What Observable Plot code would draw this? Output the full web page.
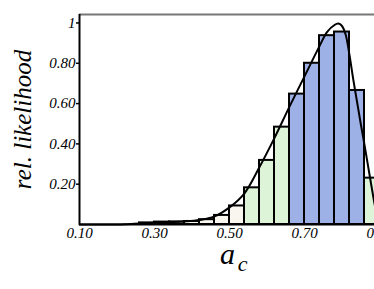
<!DOCTYPE html>
<html><head><meta charset="utf-8">
<script src="https://cdn.jsdelivr.net/npm/d3@7"></script>
<script src="https://cdn.jsdelivr.net/npm/@observablehq/plot@0.6"></script>
<style>
html,body{margin:0;padding:0;overflow:hidden;background:#fff}
#chart svg, #chart svg text{font-family:"Liberation Serif","Times New Roman",serif !important;font-style:italic}
</style>
</head><body><div id="chart"></div>
<script>
// Histogram bins (left edge, width 0.04)
const binStart  = [0.26, 0.30, 0.34, 0.38, 0.42, 0.46, 0.50, 0.54, 0.58, 0.62, 0.66, 0.70, 0.74, 0.78, 0.82, 0.86];
const binHeight = [0.008, 0.012, 0.013, 0.015, 0.024, 0.045, 0.092, 0.182, 0.318, 0.483, 0.647, 0.800, 0.937, 0.955, 0.665, 0.230];
const binGroup  = ["low","low","low","low","low","low","low","mid","mid","mid","high","high","high","high","high","mid"];
const binWidth = 0.04;

// Smooth likelihood curve
const curveX = [0.10, 0.20, 0.22, 0.26, 0.30, 0.34, 0.38, 0.42, 0.46, 0.50, 0.54, 0.58, 0.62, 0.66, 0.70, 0.74, 0.76, 0.78, 0.79, 0.80, 0.81, 0.82, 0.83, 0.84, 0.85, 0.86, 0.87, 0.88, 0.89, 0.90];
const curveY = [0.000, 0.000, 0.001, 0.005, 0.009, 0.012, 0.015, 0.022, 0.040, 0.085, 0.155, 0.285, 0.430, 0.585, 0.735, 0.885, 0.955, 0.990, 0.997, 0.985, 0.940, 0.840, 0.720, 0.610, 0.500, 0.395, 0.285, 0.175, 0.075, 0.020];

const xTicks = [0.10, 0.30, 0.50, 0.70, 0.90];
const xTickLabels = ["0.10", "0.30", "0.50", "0.70", "0.90"];
const yTicks = [0.20, 0.40, 0.60, 0.80, 1];
const yTickLabels = ["0.20", "0.40", "0.60", "0.80", "1"];

const groups = ["low", "mid", "high"];
const groupColors = ["#f8f6ee", "#ddf4d8", "#9db1e7"];

const bins = binStart.map((x, i) => ({x1: x, x2: x + binWidth, h: binHeight[i], g: binGroup[i]}));
const curve = curveX.map((x, i) => ({x, y: curveY[i]}));
const yTop = 1.042;

const chart = Plot.plot({
  width: 400, height: 289,
  marginLeft: 79, marginRight: 21, marginTop: 14, marginBottom: 65,
  x: {domain: [0.10, 0.90]},
  y: {domain: [0, yTop]},
  color: {domain: groups, range: groupColors},
  style: {fontFamily: "Liberation Serif", fontStyle: "italic", fontSize: "15px", background: "white", maxWidth: "none", color: "black"},
  marks: [
    Plot.rectY(bins, {x1: "x1", x2: "x2", y: "h", fill: "g", stroke: "black", strokeWidth: 2}),
    Plot.line(curve, {x: "x", y: "y", curve: "catmull-rom", stroke: "black", strokeWidth: 2}),
    Plot.ruleY([yTop], {stroke: "#777", strokeWidth: 2}),
    Plot.ruleY([0], {stroke: "black", strokeWidth: 2}),
    Plot.ruleX([0.10], {stroke: "black", strokeWidth: 2}),
    Plot.axisY({ticks: yTicks, tickFormat: d => yTickLabels[yTicks.indexOf(d)], tickSize: 3, tickPadding: 1, label: null, strokeWidth: 1.5}),
    Plot.axisX({ticks: xTicks, tickFormat: d => xTickLabels[xTicks.indexOf(d)], tickSize: 0, tickPadding: 3, label: null}),
    Plot.text(["rel. likelihood"], {text: d => d, frameAnchor: "left", rotate: -90, dx: -49, lineAnchor: "bottom", textAnchor: "middle", fontSize: 25}),
    Plot.text(["a"], {text: d => d, frameAnchor: "bottom", dx: -2, dy: 39, lineAnchor: "bottom", textAnchor: "middle", fontSize: 30}),
    Plot.text(["c"], {text: d => d, frameAnchor: "bottom", dx: 13, dy: 46, lineAnchor: "bottom", textAnchor: "middle", fontSize: 22})
  ]
});
document.getElementById("chart").appendChild(chart);
</script>
</body></html>
